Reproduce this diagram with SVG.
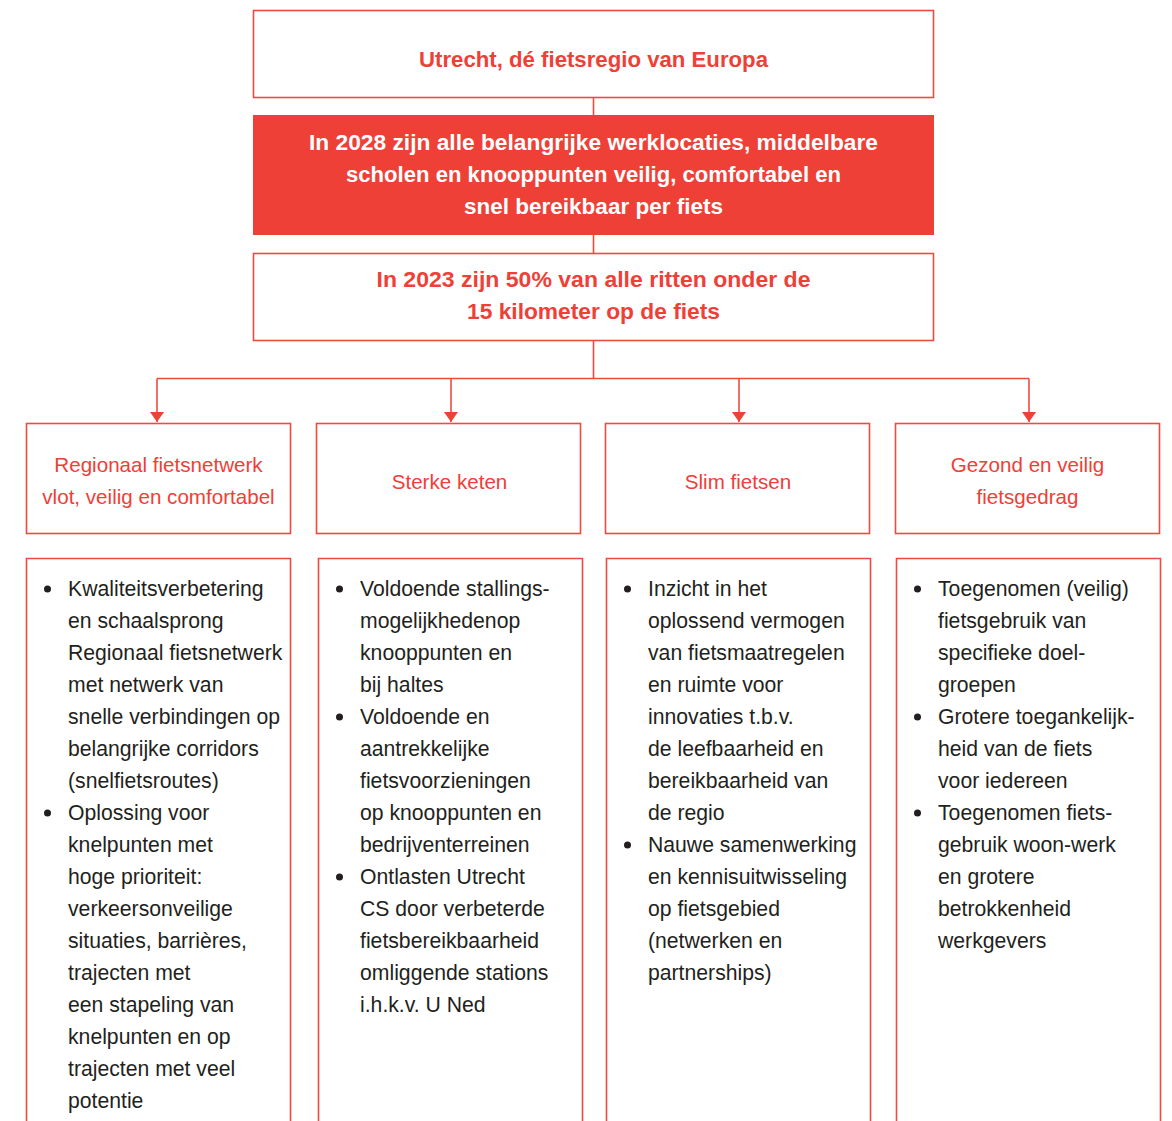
<svg xmlns="http://www.w3.org/2000/svg" width="1172" height="1121" viewBox="0 0 1172 1121">
<style>
.box{fill:#fff;stroke:#EF4A40;stroke-width:1.6}
.fill{fill:#EE4037;stroke:none}
.t{font-family:"Liberation Sans",Arial,sans-serif;text-anchor:middle}
.b{font-weight:bold}
.red{fill:#EE4037}
.wh{fill:#fff}
.hd{font-size:20.6px}
.body{font-family:"Liberation Sans",Arial,sans-serif;font-size:21.2px;fill:#231F20}
.conn{fill:none;stroke:#EF4A40;stroke-width:1.6}
.bul{fill:#231F20}
</style>
<defs>
<marker id="arr" markerWidth="10" markerHeight="14" refX="10" refY="7" orient="auto" markerUnits="userSpaceOnUse" viewBox="0 0 10 14">
<path d="M0,0 L10,7 L0,14 Z" fill="#EE4037"/>
</marker>
</defs>
<rect width="1172" height="1121" fill="#fff"/>
<g id="connectors">
<line class="conn" x1="593.5" y1="97" x2="593.5" y2="115"/>
<line class="conn" x1="593.5" y1="235" x2="593.5" y2="253"/>
<line class="conn" x1="593.5" y1="340" x2="593.5" y2="378.5"/>
<line class="conn" x1="157" y1="378.5" x2="1029" y2="378.5"/>
<path class="conn" d="M157,378.5 V422" marker-end="url(#arr)"/>
<path class="conn" d="M451,378.5 V422" marker-end="url(#arr)"/>
<path class="conn" d="M739,378.5 V422" marker-end="url(#arr)"/>
<path class="conn" d="M1029,378.5 V422" marker-end="url(#arr)"/>
</g>
<g id="vision">
<rect class="box" x="253.5" y="10.5" width="680" height="87"/>
<text class="t b red" x="593.5" y="67" font-size="22" textLength="349" lengthAdjust="spacingAndGlyphs">Utrecht, dé fietsregio van Europa</text>
</g>
<g id="goal2028">
<rect class="fill" x="253" y="115" width="681" height="120"/>
<text class="t b wh" font-size="22" x="593.5" y="150" textLength="569" lengthAdjust="spacingAndGlyphs">In 2028 zijn alle belangrijke werklocaties, middelbare</text>
<text class="t b wh" font-size="22" x="593.5" y="182" textLength="495" lengthAdjust="spacingAndGlyphs">scholen en knooppunten veilig, comfortabel en</text>
<text class="t b wh" font-size="22" x="593.5" y="214" textLength="259" lengthAdjust="spacingAndGlyphs">snel bereikbaar per fiets</text>
</g>
<g id="goal2023">
<rect class="box" x="253.5" y="253.5" width="680" height="87"/>
<text class="t b red" font-size="22" x="593.5" y="287" textLength="434" lengthAdjust="spacingAndGlyphs">In 2023 zijn 50% van alle ritten onder de</text>
<text class="t b red" font-size="22" x="593.5" y="319" textLength="253" lengthAdjust="spacingAndGlyphs">15 kilometer op de fiets</text>
</g>
<g id="h-regionaal">
<rect class="box" x="26.5" y="423.5" width="264" height="110"/>
<text class="t red hd" x="158.5" y="472">Regionaal fietsnetwerk</text>
<text class="t red hd" x="158.5" y="504">vlot, veilig en comfortabel</text>
</g>
<g id="h-keten">
<rect class="box" x="316.5" y="423.5" width="264" height="110"/>
<text class="t red hd" x="449.5" y="489">Sterke keten</text>
</g>
<g id="h-slim">
<rect class="box" x="605.5" y="423.5" width="264" height="110"/>
<text class="t red hd" x="738" y="489">Slim fietsen</text>
</g>
<g id="h-gezond">
<rect class="box" x="895.5" y="423.5" width="264" height="110"/>
<text class="t red hd" x="1027.5" y="472">Gezond en veilig</text>
<text class="t red hd" x="1027.5" y="504">fietsgedrag</text>
</g>
<g id="c-regionaal">
<path class="conn" d="M26.5,1121 V558.5 H290.5 V1121"/>
<circle class="bul" cx="47.5" cy="589" r="3.5"/>
<circle class="bul" cx="47.5" cy="813" r="3.5"/>
<text class="body">
<tspan x="68" y="596">Kwaliteitsverbetering</tspan>
<tspan x="68" y="628">en schaalsprong</tspan>
<tspan x="68" y="660">Regionaal fietsnetwerk</tspan>
<tspan x="68" y="692">met netwerk van</tspan>
<tspan x="68" y="724">snelle verbindingen op</tspan>
<tspan x="68" y="756">belangrijke corridors</tspan>
<tspan x="68" y="788">(snelfietsroutes)</tspan>
<tspan x="68" y="820">Oplossing voor</tspan>
<tspan x="68" y="852">knelpunten met</tspan>
<tspan x="68" y="884">hoge prioriteit:</tspan>
<tspan x="68" y="916">verkeersonveilige</tspan>
<tspan x="68" y="948">situaties, barrières,</tspan>
<tspan x="68" y="980">trajecten met</tspan>
<tspan x="68" y="1012">een stapeling van</tspan>
<tspan x="68" y="1044">knelpunten en op</tspan>
<tspan x="68" y="1076">trajecten met veel</tspan>
<tspan x="68" y="1108">potentie</tspan>
</text>
</g>
<g id="c-keten">
<path class="conn" d="M318.5,1121 V558.5 H582.5 V1121"/>
<circle class="bul" cx="339.5" cy="589" r="3.5"/>
<circle class="bul" cx="339.5" cy="717" r="3.5"/>
<circle class="bul" cx="339.5" cy="877" r="3.5"/>
<text class="body">
<tspan x="360" y="596">Voldoende stallings-</tspan>
<tspan x="360" y="628">mogelijkhedenop</tspan>
<tspan x="360" y="660">knooppunten en</tspan>
<tspan x="360" y="692">bij haltes</tspan>
<tspan x="360" y="724">Voldoende en</tspan>
<tspan x="360" y="756">aantrekkelijke</tspan>
<tspan x="360" y="788">fietsvoorzieningen</tspan>
<tspan x="360" y="820">op knooppunten en</tspan>
<tspan x="360" y="852">bedrijventerreinen</tspan>
<tspan x="360" y="884">Ontlasten Utrecht</tspan>
<tspan x="360" y="916">CS door verbeterde</tspan>
<tspan x="360" y="948">fietsbereikbaarheid</tspan>
<tspan x="360" y="980">omliggende stations</tspan>
<tspan x="360" y="1012">i.h.k.v. U Ned</tspan>
</text>
</g>
<g id="c-slim">
<path class="conn" d="M606.5,1121 V558.5 H870.5 V1121"/>
<circle class="bul" cx="627.5" cy="589" r="3.5"/>
<circle class="bul" cx="627.5" cy="845" r="3.5"/>
<text class="body">
<tspan x="648" y="596">Inzicht in het</tspan>
<tspan x="648" y="628">oplossend vermogen</tspan>
<tspan x="648" y="660">van fietsmaatregelen</tspan>
<tspan x="648" y="692">en ruimte voor</tspan>
<tspan x="648" y="724">innovaties t.b.v.</tspan>
<tspan x="648" y="756">de leefbaarheid en</tspan>
<tspan x="648" y="788">bereikbaarheid van</tspan>
<tspan x="648" y="820">de regio</tspan>
<tspan x="648" y="852">Nauwe samenwerking</tspan>
<tspan x="648" y="884">en kennisuitwisseling</tspan>
<tspan x="648" y="916">op fietsgebied</tspan>
<tspan x="648" y="948">(netwerken en</tspan>
<tspan x="648" y="980">partnerships)</tspan>
</text>
</g>
<g id="c-gezond">
<path class="conn" d="M896.5,1121 V558.5 H1160.5 V1121"/>
<circle class="bul" cx="917.5" cy="589" r="3.5"/>
<circle class="bul" cx="917.5" cy="717" r="3.5"/>
<circle class="bul" cx="917.5" cy="813" r="3.5"/>
<text class="body">
<tspan x="938" y="596">Toegenomen (veilig)</tspan>
<tspan x="938" y="628">fietsgebruik van</tspan>
<tspan x="938" y="660">specifieke doel-</tspan>
<tspan x="938" y="692">groepen</tspan>
<tspan x="938" y="724">Grotere toegankelijk-</tspan>
<tspan x="938" y="756">heid van de fiets</tspan>
<tspan x="938" y="788">voor iedereen</tspan>
<tspan x="938" y="820">Toegenomen fiets-</tspan>
<tspan x="938" y="852">gebruik woon-werk</tspan>
<tspan x="938" y="884">en grotere</tspan>
<tspan x="938" y="916">betrokkenheid</tspan>
<tspan x="938" y="948">werkgevers</tspan>
</text>
</g>
</svg>
